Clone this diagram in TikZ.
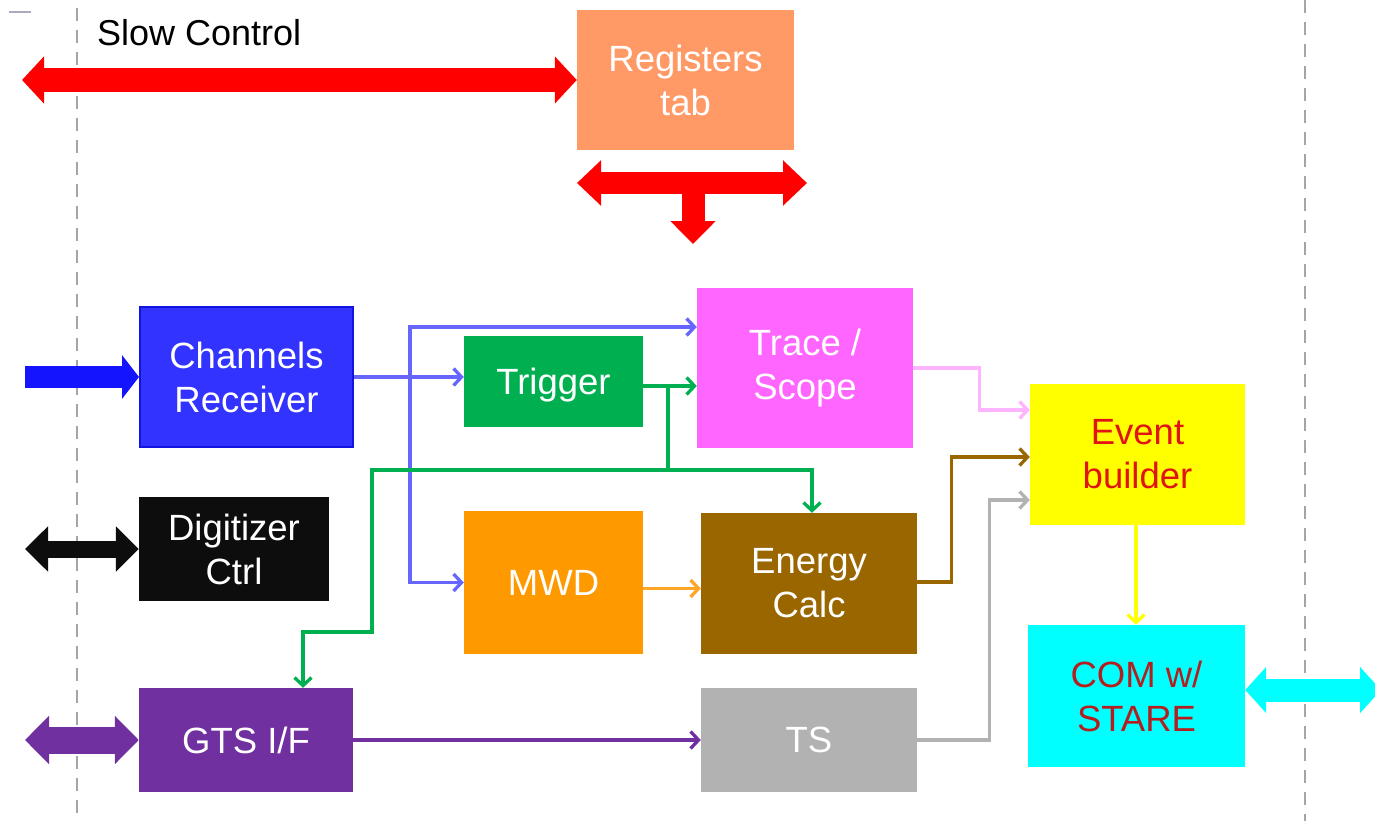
\documentclass[tikz,border=0pt]{standalone}
\usepackage{fontspec}
\setmainfont{Liberation Sans}
\usetikzlibrary{arrows.meta,calc}

% block fills
\definecolor{regfill}{RGB}{255,153,102}
\definecolor{chfill}{RGB}{51,51,255}
\definecolor{chdraw}{RGB}{20,20,225}
\definecolor{trigfill}{RGB}{0,176,80}
\definecolor{tracefill}{RGB}{255,102,255}
\definecolor{evbfill}{RGB}{255,255,0}
\definecolor{digfill}{RGB}{13,13,13}
\definecolor{mwdfill}{RGB}{255,153,0}
\definecolor{enfill}{RGB}{153,102,0}
\definecolor{comfill}{RGB}{0,255,255}
\definecolor{gtsfill}{RGB}{112,48,160}
\definecolor{tsfill}{RGB}{178,178,178}
% texts
\definecolor{evbtext}{RGB}{225,20,20}
\definecolor{comtext}{RGB}{180,30,30}
% connectors
\definecolor{bluewire}{RGB}{102,102,255}
\definecolor{pinkwire}{RGB}{255,180,255}
\definecolor{orangewire}{RGB}{255,165,40}
\definecolor{bigred}{RGB}{255,0,0}
\definecolor{bigblue}{RGB}{20,20,255}
\definecolor{dashgray}{RGB}{165,165,165}

\begin{document}
\begin{tikzpicture}[x=1pt,y=-1pt,
  block/.style={inner sep=0pt, align=center, text=white,
    font=\fontsize{36.5}{44}\selectfont},
  wire/.style={line width=3.3pt, -{Straight Barb[length=8pt,width=17pt]}},
  fatboth/.style={{Triangle[length=22pt,width=46pt]}-{Triangle[length=22pt,width=46pt]}},
  border/.style={dashgray, line width=2pt, dash pattern=on 13pt off 9pt}
]
\clip (0,0) rectangle (1375,821);
\fill[white] (0,0) rectangle (1375,821);

% frame lines
\draw[border] (77,8) -- (77,821);
\draw[border] (1305,0) -- (1305,821);
\draw[line width=1.5pt, color={rgb,255:red,170;green,170;blue,190}] (9,12) -- (31,12);

% blocks
\node[block, fill=regfill, minimum width=217pt, minimum height=140pt] (reg) at (685.5,80) {Registers\\tab};
\node[block, fill=chfill, draw=chdraw, line width=2pt, minimum width=213pt, minimum height=140pt] (chr) at (246.5,377) {Channels\\Receiver};
\node[block, fill=trigfill, minimum width=179pt, minimum height=91pt, text height=26pt, text depth=0pt] (trig) at (553.5,381.5) {Trigger};
\node[block, fill=tracefill, minimum width=216pt, minimum height=160pt] (trace) at (805,368) {Trace /\\Scope};
\node[block, fill=evbfill, text=evbtext, minimum width=215pt, minimum height=141pt] (evb) at (1137.5,454.5) {Event\\builder};
\node[block, fill=digfill, minimum width=190pt, minimum height=104pt] (dig) at (234,549) {Digitizer\\Ctrl};
\node[block, fill=mwdfill, minimum width=179pt, minimum height=143pt] (mwd) at (553.5,582.5) {MWD};
\node[block, fill=enfill, minimum width=216pt, minimum height=141pt] (energy) at (809,583.5) {Energy\\Calc};
\node[block, fill=comfill, text=comtext, minimum width=217pt, minimum height=142pt] (com) at (1136.5,696) {COM w/\\STARE};
\node[block, fill=gtsfill, minimum width=214pt, minimum height=104pt] (gts) at (246,740) {GTS I/F};
\node[block, fill=tsfill, minimum width=216pt, minimum height=104pt] (ts) at (809,740) {TS};

% slow control bus
\node[font=\fontsize{36}{44}\selectfont, anchor=west, inner sep=0pt] (sc) at (97,33) {Slow Control};
\coordinate (scL) at (22,80);
\draw[bigred, line width=24pt, fatboth] (scL) -- (reg.west);

% register access bus
\coordinate (rL) at (577,183);
\coordinate (rR) at (807,183);
\coordinate (rM) at (693,183);
\coordinate (rD) at (693,244);
\draw[bigred, line width=22pt, {Triangle[length=24pt,width=44pt]}-{Triangle[length=24pt,width=44pt]}] (rL) -- (rR);
\draw[bigred, line width=23pt, -{Triangle[length=23pt,width=44pt]}] (rM) -- (rD);

% external interfaces
\coordinate (inL) at (25,377);
\draw[bigblue, line width=22pt, -{Triangle[length=17pt,width=43pt]}] (inL) -- (chr.west);
\coordinate (digL) at (25,549);
\draw[digfill, line width=17pt, {Triangle[length=23pt,width=44pt]}-{Triangle[length=23pt,width=44pt]}] (digL) -- (dig.west);
\coordinate (gtsL) at (25,740);
\draw[gtsfill, line width=27pt, {Triangle[length=24pt,width=47pt]}-{Triangle[length=24pt,width=47pt]}] (gtsL) -- (gts.west);
\coordinate (comR) at (1381,690);
\draw[comfill, line width=23pt, {Triangle[length=21pt,width=45pt]}-{Triangle[length=21pt,width=45pt]}] ([yshift=6pt]com.east) -- (comR);

% channel data distribution
\coordinate (split) at (410,377);
\draw[wire, bluewire] (chr.east) -- (chr.east -| trig.west);
\draw[wire, bluewire] (split) |- ([yshift=41pt]trace.west);
\draw[wire, bluewire] (split) |- (mwd.west);

% trigger distribution
\coordinate (g0) at ([yshift=-4.5pt]trig.east);
\coordinate (gs) at (668,386);
\coordinate (gbus) at (668,470);
\draw[wire, trigfill] (g0) -- (g0 -| trace.west);
\draw[wire, trigfill] (gs) -- (gbus) -| ([xshift=3pt]energy.north);
\draw[wire, trigfill] (gbus) -- (372,470) -- (372,632) -| ([xshift=57pt]gts.north);

% processing chain
\draw[wire, orangewire] ([yshift=-6pt]mwd.east) -- ([yshift=-6pt]mwd.east -| energy.west);
\draw[wire, gtsfill] (gts.east) -- (ts.west);

% event building
\draw[wire, pinkwire] (trace.east) -| ([xshift=-50pt,yshift=44.5pt]evb.west) -- ([yshift=44.5pt]evb.west);
\draw[wire, enfill] ([yshift=1.5pt]energy.east) -| ([xshift=-78pt,yshift=-2.5pt]evb.west) -- ([yshift=-2.5pt]evb.west);
\draw[wire, tsfill] (ts.east) -| ([xshift=-40pt,yshift=-45.5pt]evb.west) -- ([yshift=-45.5pt]evb.west);
\draw[wire, evbfill] ([xshift=-1.5pt]evb.south) -- ([xshift=-1.5pt]evb.south |- com.north);
\end{tikzpicture}
\end{document}
